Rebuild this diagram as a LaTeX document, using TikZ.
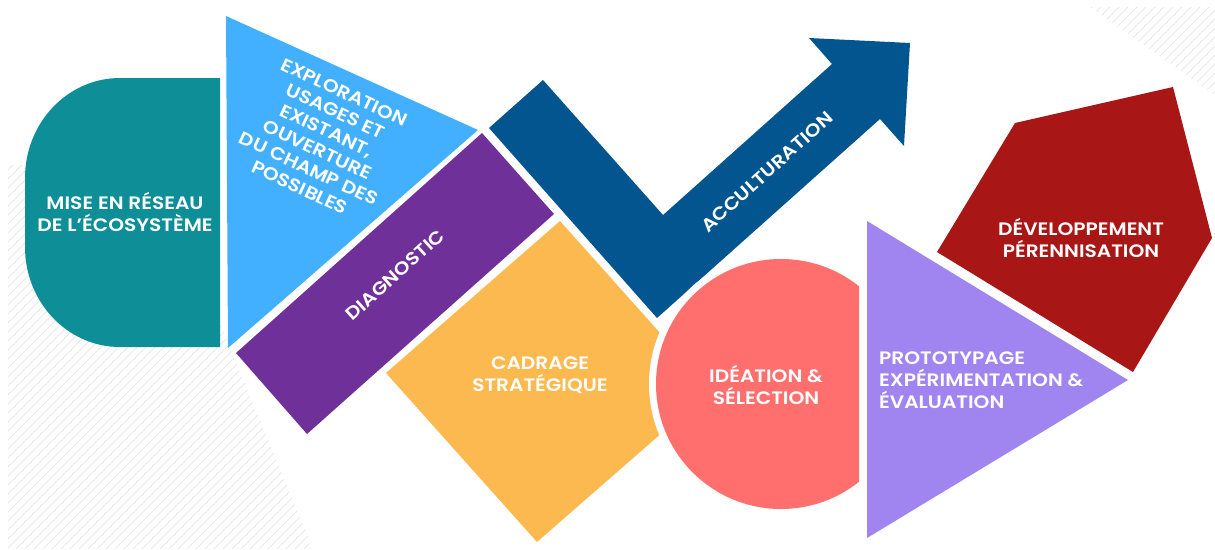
\documentclass[tikz,border=0pt]{standalone}
\usepackage{fontspec}
\setmainfont{Poppins}[FakeStretch=1.12, BoldFont={Poppins SemiBold}]
\usepackage{xcolor}
\definecolor{reseau}{HTML}{0E8F98}
\definecolor{explo}{HTML}{42B0FF}
\definecolor{diag}{HTML}{70309A}
\definecolor{accult}{HTML}{02558F}
\definecolor{cadrage}{HTML}{FBB950}
\definecolor{ideation}{HTML}{FF6F6E}
\definecolor{proto}{HTML}{A084F0}
\definecolor{devel}{HTML}{A81616}
\tikzset{
  label/.style={text=white, inner sep=0pt, align=center, font=\fontsize{18}{22}\selectfont\bfseries},
  hatchline/.style={draw=black!9, line width=1pt}
}

\begin{document}
\begin{tikzpicture}[x=1pt, y=-1pt]
    \useasboundingbox (0,0) rectangle (1215,549);
    % Hatching
    \begin{scope}
        \clip (8,165) -- (155,165) -- (313,549) -- (8,549) -- cycle;
        \foreach \k in {-380,-371,...,320} \draw[hatchline] (\k,549) -- ++(400,-400);
    \end{scope}
    \begin{scope}
        \clip (1090,7) -- (1215,7) -- (1215,95) -- cycle;
        \foreach \k in {970,979,...,1220} \draw[hatchline] (\k,120) -- ++(130,-130);
    \end{scope}
    % Shapes
    \fill[reseau] (220,78) -- (120,78) .. controls (67.5,78) and (25,122.8) .. (25,178)
        -- (25,247) .. controls (25,302.2) and (67.5,347) .. (120,347) -- (220,347) -- cycle;
    \fill[explo] (226,16) -- (478,130) -- (228,348) -- cycle;
    \fill[diag] (236,353) -- (482,133) -- (554,214) -- (307,434) -- cycle;
    \fill[accult] (489,128) -- (543,80) -- (663,215) -- (832,64) -- (809,38) -- (910,43)
        -- (904,146) -- (880,119) -- (657,318) -- cycle;
    \fill[cadrage] (560,221) -- (386,373) -- (537,542) -- (711,390) -- cycle;
    \fill[white] (781,384) circle[radius=132pt];
    \begin{scope}
        \clip (640,250) rectangle (859,520);
        \fill[ideation] (781,384) circle[radius=125pt];
    \end{scope}
    \fill[proto] (867,221) -- (1128,380) -- (867,538) -- cycle;
    \fill[devel] (937,252) -- (1015,123) -- (1173,87) -- (1212,238) -- (1133,372) -- cycle;
    % Nodes
    \node[label] (R) at (125,212) {MISE EN RÉSEAU\\DE L’ÉCOSYSTÈME};
    \node[label, rotate=-25, font=\fontsize{18}{21}\selectfont\bfseries] (E) at (322,140)
        {EXPLORATION\\USAGES ET\\EXISTANT,\\OUVERTURE\\DU CHAMP DES\\POSSIBLES};
    \node[label, rotate=42] (D) at (395,275) {DIAGNOSTIC};
    \node[label, rotate=42] (A) at (767,172) {ACCULTURATION};
    \node[label] (C) at (540,375) {CADRAGE\\STRATÉGIQUE};
    \node[label] (I) at (766,385) {IDÉATION \&\\SÉLECTION};
    \node[label, align=left, anchor=west] (P) at (879,380) {PROTOTYPAGE\\EXPÉRIMENTATION \&\\ÉVALUATION};
    \node[label] (V) at (1081,238) {DÉVELOPPEMENT\\PÉRENNISATION};
\end{tikzpicture}
\end{document}
